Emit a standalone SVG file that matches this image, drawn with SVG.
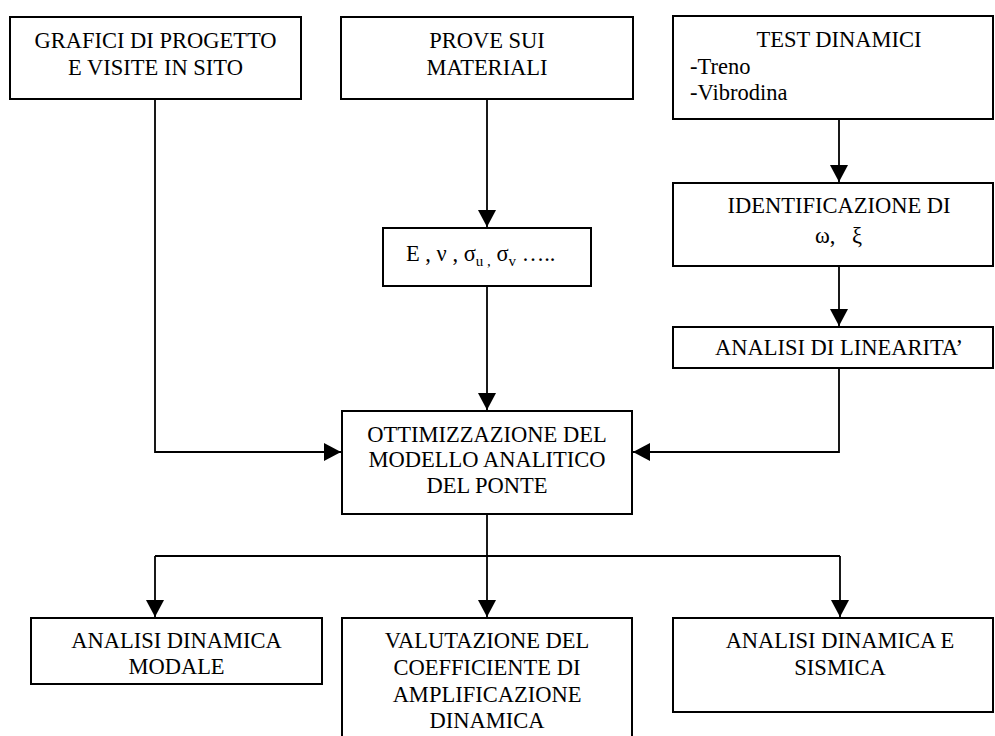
<svg xmlns="http://www.w3.org/2000/svg" width="995" height="736" viewBox="0 0 995 736">
<defs>
<style>
.box{fill:#fff;stroke:#000;stroke-width:2}
.t{font-family:"Liberation Serif","Times New Roman",serif;font-size:22.5px;fill:#000}
.c{text-anchor:middle}
.ln{fill:none;stroke:#000;stroke-width:1.8}
.sub{font-size:15px}
</style>
<marker id="ah" markerUnits="userSpaceOnUse" markerWidth="18" markerHeight="20" refX="17" refY="9" orient="auto">
<path d="M0,0 L17,9 L0,18 Z" fill="#000"/>
</marker>
</defs>
<rect width="995" height="736" fill="#fff"/>
<g id="connectors">
<path class="ln" d="M155,99 V452 H341" marker-end="url(#ah)"/>
<path class="ln" d="M487,99 V227" marker-end="url(#ah)"/>
<path class="ln" d="M487,286 V410" marker-end="url(#ah)"/>
<path class="ln" d="M839,119 V182" marker-end="url(#ah)"/>
<path class="ln" d="M839,266 V326" marker-end="url(#ah)"/>
<path class="ln" d="M839,368 V452 H633" marker-end="url(#ah)"/>
<path class="ln" d="M487,514 V556"/>
<path class="ln" d="M155,556 H840"/>
<path class="ln" d="M155,556 V617" marker-end="url(#ah)"/>
<path class="ln" d="M487,556 V617" marker-end="url(#ah)"/>
<path class="ln" d="M840,556 V617" marker-end="url(#ah)"/>
</g>
<g id="grafici">
<rect class="box" x="10" y="17" width="291" height="82"/>
<text class="t c" x="155.5" y="48">GRAFICI DI PROGETTO</text>
<text class="t c" x="155.5" y="75">E VISITE IN SITO</text>
</g>
<g id="prove">
<rect class="box" x="341" y="17" width="292" height="82"/>
<text class="t c" x="487" y="48">PROVE SUI</text>
<text class="t c" x="487" y="75">MATERIALI</text>
</g>
<g id="test">
<rect class="box" x="673" y="16" width="320" height="103"/>
<text class="t c" x="839" y="47">TEST DINAMICI</text>
<text class="t" x="690" y="74">-Treno</text>
<text class="t" x="690" y="100">-Vibrodina</text>
</g>
<g id="parametri">
<rect class="box" x="383" y="228" width="208" height="58"/>
<text class="t" x="406" y="261">E , ν , σ<tspan class="sub" dy="5">u ,</tspan><tspan dy="-5"> σ</tspan><tspan class="sub" dy="5">v</tspan><tspan dy="-5"> …..</tspan></text>
</g>
<g id="identificazione">
<rect class="box" x="673" y="183" width="320" height="83"/>
<text class="t c" x="839" y="213">IDENTIFICAZIONE DI</text>
<text class="t" x="815" y="243">ω,</text>
<text class="t" x="852" y="243">ξ</text>
</g>
<g id="linearita">
<rect class="box" x="673" y="327" width="320" height="41"/>
<text class="t c" x="839" y="355">ANALISI DI LINEARITA’</text>
</g>
<g id="ottimizzazione">
<rect class="box" x="342" y="411" width="290" height="103"/>
<text class="t c" x="487" y="442">OTTIMIZZAZIONE DEL</text>
<text class="t c" x="487" y="467">MODELLO ANALITICO</text>
<text class="t c" x="487" y="493">DEL PONTE</text>
</g>
<g id="modale">
<rect class="box" x="31" y="618" width="291" height="66"/>
<text class="t c" x="176.5" y="648">ANALISI DINAMICA</text>
<text class="t c" x="176.5" y="674">MODALE</text>
</g>
<g id="valutazione">
<rect class="box" x="342" y="618" width="290" height="130"/>
<text class="t c" x="487" y="648">VALUTAZIONE DEL</text>
<text class="t c" x="487" y="675">COEFFICIENTE DI</text>
<text class="t c" x="487" y="702">AMPLIFICAZIONE</text>
<text class="t c" x="487" y="728">DINAMICA</text>
</g>
<g id="sismica">
<rect class="box" x="673" y="618" width="320" height="94"/>
<text class="t c" x="840" y="648">ANALISI DINAMICA E</text>
<text class="t c" x="840" y="675">SISMICA</text>
</g>
</svg>
